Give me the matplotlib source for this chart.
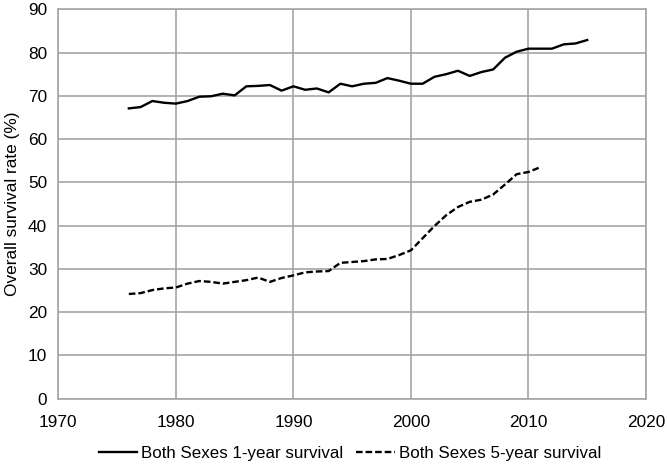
import matplotlib
matplotlib.use("Agg")
import matplotlib.pyplot as plt

plt.rcParams['font.family'] = ['Liberation Sans', 'DejaVu Sans']

years_1yr = list(range(1976, 2016))
surv_1yr = [67.1, 67.4, 68.8, 68.4, 68.2, 68.8, 69.8, 69.9, 70.5, 70.1,
            72.2, 72.3, 72.5, 71.2, 72.2, 71.4, 71.7, 70.8, 72.8, 72.2,
            72.8, 73.0, 74.1, 73.5, 72.8, 72.8, 74.4, 75.0, 75.8, 74.6,
            75.5, 76.1, 78.8, 80.2, 80.9, 80.9, 80.9, 81.9, 82.1, 82.9]

years_5yr = list(range(1976, 2012))
surv_5yr = [24.2, 24.4, 25.1, 25.5, 25.7, 26.6, 27.2, 27.0, 26.6, 27.0,
            27.4, 28.0, 27.0, 27.9, 28.5, 29.2, 29.4, 29.5, 31.4, 31.6,
            31.8, 32.2, 32.3, 33.2, 34.3, 37.1, 39.9, 42.4, 44.3, 45.5,
            46.0, 47.2, 49.5, 51.9, 52.4, 53.5]

label_1yr = "Both Sexes 1-year survival"
label_5yr = "Both Sexes 5-year survival"
x_ticks = [1970, 1980, 1990, 2000, 2010, 2020]
y_ticks = [0, 10, 20, 30, 40, 50, 60, 70, 80, 90]

FS = 12.4
fig = plt.figure(figsize=(6.67, 4.65), dpi=100)
ax = fig.add_axes([58.3/667, 1-398.7/465, (646-58.3)/667, (398.7-9.3)/465])

grid_c = '#a6a6a6'
ax.plot(years_1yr, surv_1yr, color='black', lw=1.7, label=label_1yr, solid_joinstyle='round')
ax.plot(years_5yr, surv_5yr, color='black', lw=1.7, ls=(0, (2.8, 1.25)), label=label_5yr)

ax.set_xlim(1970, 2020)
ax.set_ylim(0, 90)
ax.set_xticks(x_ticks)
ax.set_yticks(y_ticks)
ax.grid(True, color=grid_c, lw=1.2)
ax.set_axisbelow(True)
for s in ax.spines.values():
    s.set_color(grid_c)
    s.set_linewidth(1.2)
ax.tick_params(length=0, labelsize=FS)
ax.tick_params(axis='y', pad=8)
ax.tick_params(axis='x', pad=11.5)
ax.set_ylabel("Overall survival rate (%)", fontsize=FS, labelpad=6)

fig.legend(loc='center', bbox_to_anchor=(350/667, 1-453/465), ncol=2, frameon=False,
           fontsize=12.2, handlelength=2.25, handletextpad=0.24, columnspacing=0.77)

fig.savefig("out.png", dpi=100)
